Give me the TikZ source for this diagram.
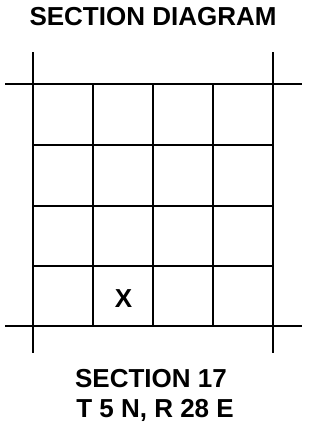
\documentclass[tikz,border=0pt]{standalone}
\usepackage{fontspec}
\setmainfont{Liberation Sans}
\usetikzlibrary{positioning}
\tikzset{
  rule/.style={black,line width=2.6pt},
  label/.style={text=black,font=\bfseries\fontsize{26}{30}\selectfont,inner sep=0pt,anchor=base},
}

\begin{document}
\begin{tikzpicture}[x=1pt,y=-1pt,line join=miter]
  \path[use as bounding box] (0,0) rectangle (323,423);
  \fill[white] (0,0) rectangle (323,423);

  \node[label] (title) at (153,25) {SECTION DIAGRAM};

  % outer section lines
  \foreach \x in {33,273}
    \draw[rule] (\x,52) -- (\x,353);
  \foreach \y in {84,326}
    \draw[rule] (5,\y) -- (302,\y);

  % quarter-quarter grid
  \foreach \x in {93,153,213}
    \draw[rule] (\x,84) -- (\x,326);
  \foreach \y in {145,206,266}
    \draw[rule] (33,\y) -- (273,\y);

  \node[label] (mark) at (123.5,307) {X};

  \node[label] (sect) at (151,387) {SECTION 17};
  \node[label] (twp) at (155,417) {T 5 N, R 28 E};
\end{tikzpicture}
\end{document}
